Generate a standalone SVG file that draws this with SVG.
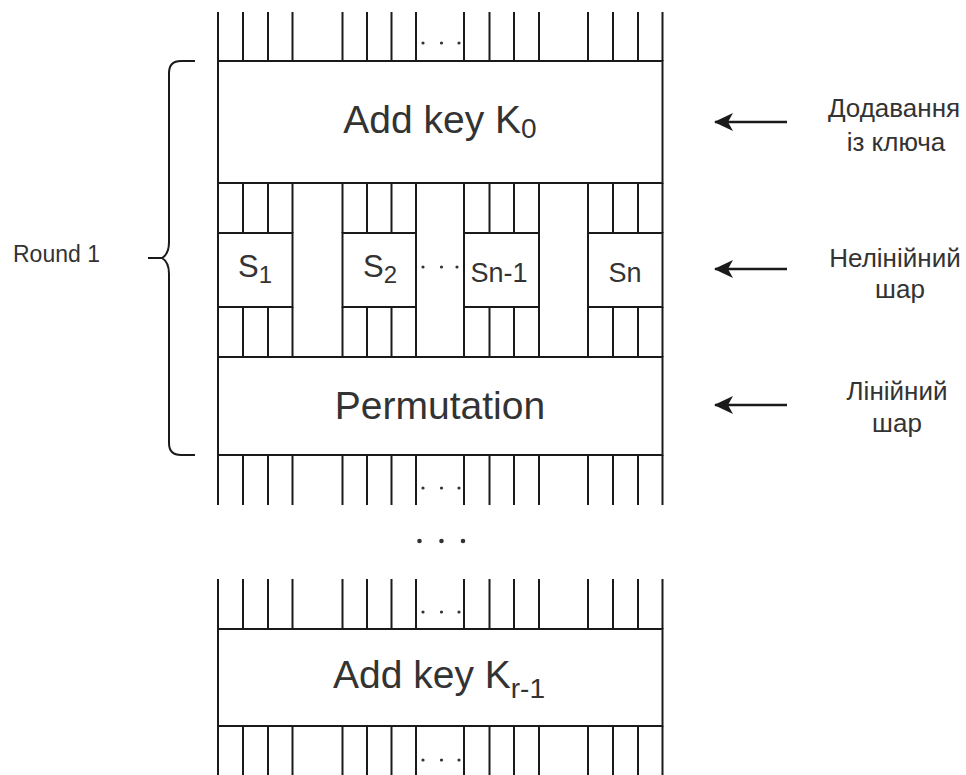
<svg xmlns="http://www.w3.org/2000/svg" width="966" height="775" viewBox="0 0 966 775">
  <style>
    .box { fill: #ffffff; stroke: #1a1a1a; stroke-width: 2; }
    .wire { fill: none; stroke: #1a1a1a; stroke-width: 2; }
    .dot { fill: #333333; }
    .txt { font-family: "Liberation Sans", Arial, Helvetica, sans-serif; fill: #333333; }
    .big { font-size: 39px; }
    .side { font-size: 26px; text-anchor: middle; }
    .arrow { stroke: #1a1a1a; stroke-width: 2.6; fill: none; marker-end: url(#head); }
  </style>
  <defs>
    <marker id="head" viewBox="0 0 19 20" markerWidth="19" markerHeight="20" markerUnits="userSpaceOnUse" refX="18" refY="10" orient="auto">
      <path d="M0,1 L19,10 L0,19 L5,10 Z" fill="#1a1a1a"/>
    </marker>
  </defs>
  <rect width="966" height="775" fill="#ffffff"/>

  <!-- bit lines between the layers -->
  <g id="wires">
    <!-- input lines above the first key addition -->
    <path class="wire" d="M218,12V61 M243,12V61 M268,12V61 M292.5,12V61 M342.5,12V61 M367,12V61 M391.5,12V61 M416,12V61 M464,12V61 M489.5,12V61 M514,12V61 M539,12V61 M588,12V61 M613,12V61 M638,12V61 M662.5,12V61"/>
    <!-- key addition to S-box inputs -->
    <path class="wire" d="M218,183V233 M243,183V233 M268,183V233 M292.5,183V233 M342.5,183V233 M367,183V233 M391.5,183V233 M416,183V233 M464,183V233 M489.5,183V233 M514,183V233 M539,183V233 M588,183V233 M613,183V233 M638,183V233 M662.5,183V233"/>
    <!-- S-box outputs to permutation -->
    <path class="wire" d="M218,307V357 M243,307V357 M268,307V357 M292.5,307V357 M342.5,307V357 M367,307V357 M391.5,307V357 M416,307V357 M464,307V357 M489.5,307V357 M514,307V357 M539,307V357 M588,307V357 M613,307V357 M638,307V357 M662.5,307V357"/>
    <!-- permutation outputs -->
    <path class="wire" d="M218,455V505 M243,455V505 M268,455V505 M292.5,455V505 M342.5,455V505 M367,455V505 M391.5,455V505 M416,455V505 M464,455V505 M489.5,455V505 M514,455V505 M539,455V505 M588,455V505 M613,455V505 M638,455V505 M662.5,455V505"/>
    <!-- inputs of the last key addition -->
    <path class="wire" d="M218,579V629 M243,579V629 M268,579V629 M292.5,579V629 M342.5,579V629 M367,579V629 M391.5,579V629 M416,579V629 M464,579V629 M489.5,579V629 M514,579V629 M539,579V629 M588,579V629 M613,579V629 M638,579V629 M662.5,579V629"/>
    <!-- outputs of the last key addition -->
    <path class="wire" d="M218,726V775 M243,726V775 M268,726V775 M292.5,726V775 M342.5,726V775 M367,726V775 M391.5,726V775 M416,726V775 M464,726V775 M489.5,726V775 M514,726V775 M539,726V775 M588,726V775 M613,726V775 M638,726V775 M662.5,726V775"/>
    <!-- ellipses -->
    <g class="dot">
      <circle cx="423" cy="43" r="1.6"/><circle cx="441.5" cy="43" r="1.6"/><circle cx="459" cy="43" r="1.6"/>
      <circle cx="423" cy="267" r="1.6"/><circle cx="441.5" cy="267" r="1.6"/><circle cx="457" cy="267" r="1.6"/>
      <circle cx="423" cy="488" r="1.6"/><circle cx="441.5" cy="488" r="1.6"/><circle cx="459" cy="488" r="1.6"/>
      <circle cx="419.5" cy="541" r="2.3"/><circle cx="441.5" cy="541" r="2.3"/><circle cx="463" cy="541" r="2.3"/>
      <circle cx="423" cy="612" r="1.6"/><circle cx="441.5" cy="612" r="1.6"/><circle cx="459" cy="612" r="1.6"/>
      <circle cx="423" cy="760" r="1.6"/><circle cx="441.5" cy="760" r="1.6"/><circle cx="459" cy="760" r="1.6"/>
    </g>
  </g>

  <g id="add-key-0">
    <rect class="box" x="218" y="61" width="444.5" height="122"/>
    <text class="txt big" x="440" y="133" text-anchor="middle">Add key K<tspan font-size="28" dy="5">0</tspan></text>
  </g>

  <g id="sbox-1">
    <rect class="box" x="218" y="233" width="74.5" height="74"/>
    <text class="txt" x="255" y="277" text-anchor="middle" font-size="31">S<tspan font-size="24" dy="6">1</tspan></text>
  </g>
  <g id="sbox-2">
    <rect class="box" x="342.5" y="233" width="73.5" height="74"/>
    <text class="txt" x="380" y="277" text-anchor="middle" font-size="31">S<tspan font-size="24" dy="6">2</tspan></text>
  </g>
  <g id="sbox-n-1">
    <rect class="box" x="464" y="233" width="75" height="74"/>
    <text class="txt" x="499" y="282" text-anchor="middle" font-size="27">Sn-1</text>
  </g>
  <g id="sbox-n">
    <rect class="box" x="588" y="233" width="74.5" height="74"/>
    <text class="txt" x="625" y="282" text-anchor="middle" font-size="27">Sn</text>
  </g>

  <g id="permutation">
    <rect class="box" x="218" y="357" width="444.5" height="98"/>
    <text class="txt big" x="440" y="419" text-anchor="middle">Permutation</text>
  </g>

  <g id="add-key-r-1">
    <rect class="box" x="218" y="629" width="444.5" height="97"/>
    <text class="txt big" x="439" y="688" text-anchor="middle">Add key K<tspan font-size="28" dy="10">r-1</tspan></text>
  </g>

  <!-- round bracket -->
  <g id="round-1">
    <path class="wire" d="M195,61 H181 Q169,61 169,73 V242 Q169,254 162,258 H148 M162,258 Q169,262 169,274 V443 Q169,455 181,455 H195"/>
    <text class="txt" x="13" y="262" font-size="23">Round 1</text>
  </g>

  <!-- layer annotations -->
  <g id="annotations">
    <line class="arrow" x1="787" y1="122" x2="715" y2="122"/>
    <line class="arrow" x1="787" y1="269" x2="715" y2="269"/>
    <line class="arrow" x1="787" y1="405" x2="715" y2="405"/>
    <text class="txt side" x="894" y="117">Додавання</text>
    <text class="txt side" x="896" y="151">із ключа</text>
    <text class="txt side" x="895" y="267">Нелінійний</text>
    <text class="txt side" x="900" y="298">шар</text>
    <text class="txt side" x="897" y="400" font-size="23">Лінійний</text>
    <text class="txt side" x="897" y="432" font-size="23">шар</text>
  </g>
</svg>
